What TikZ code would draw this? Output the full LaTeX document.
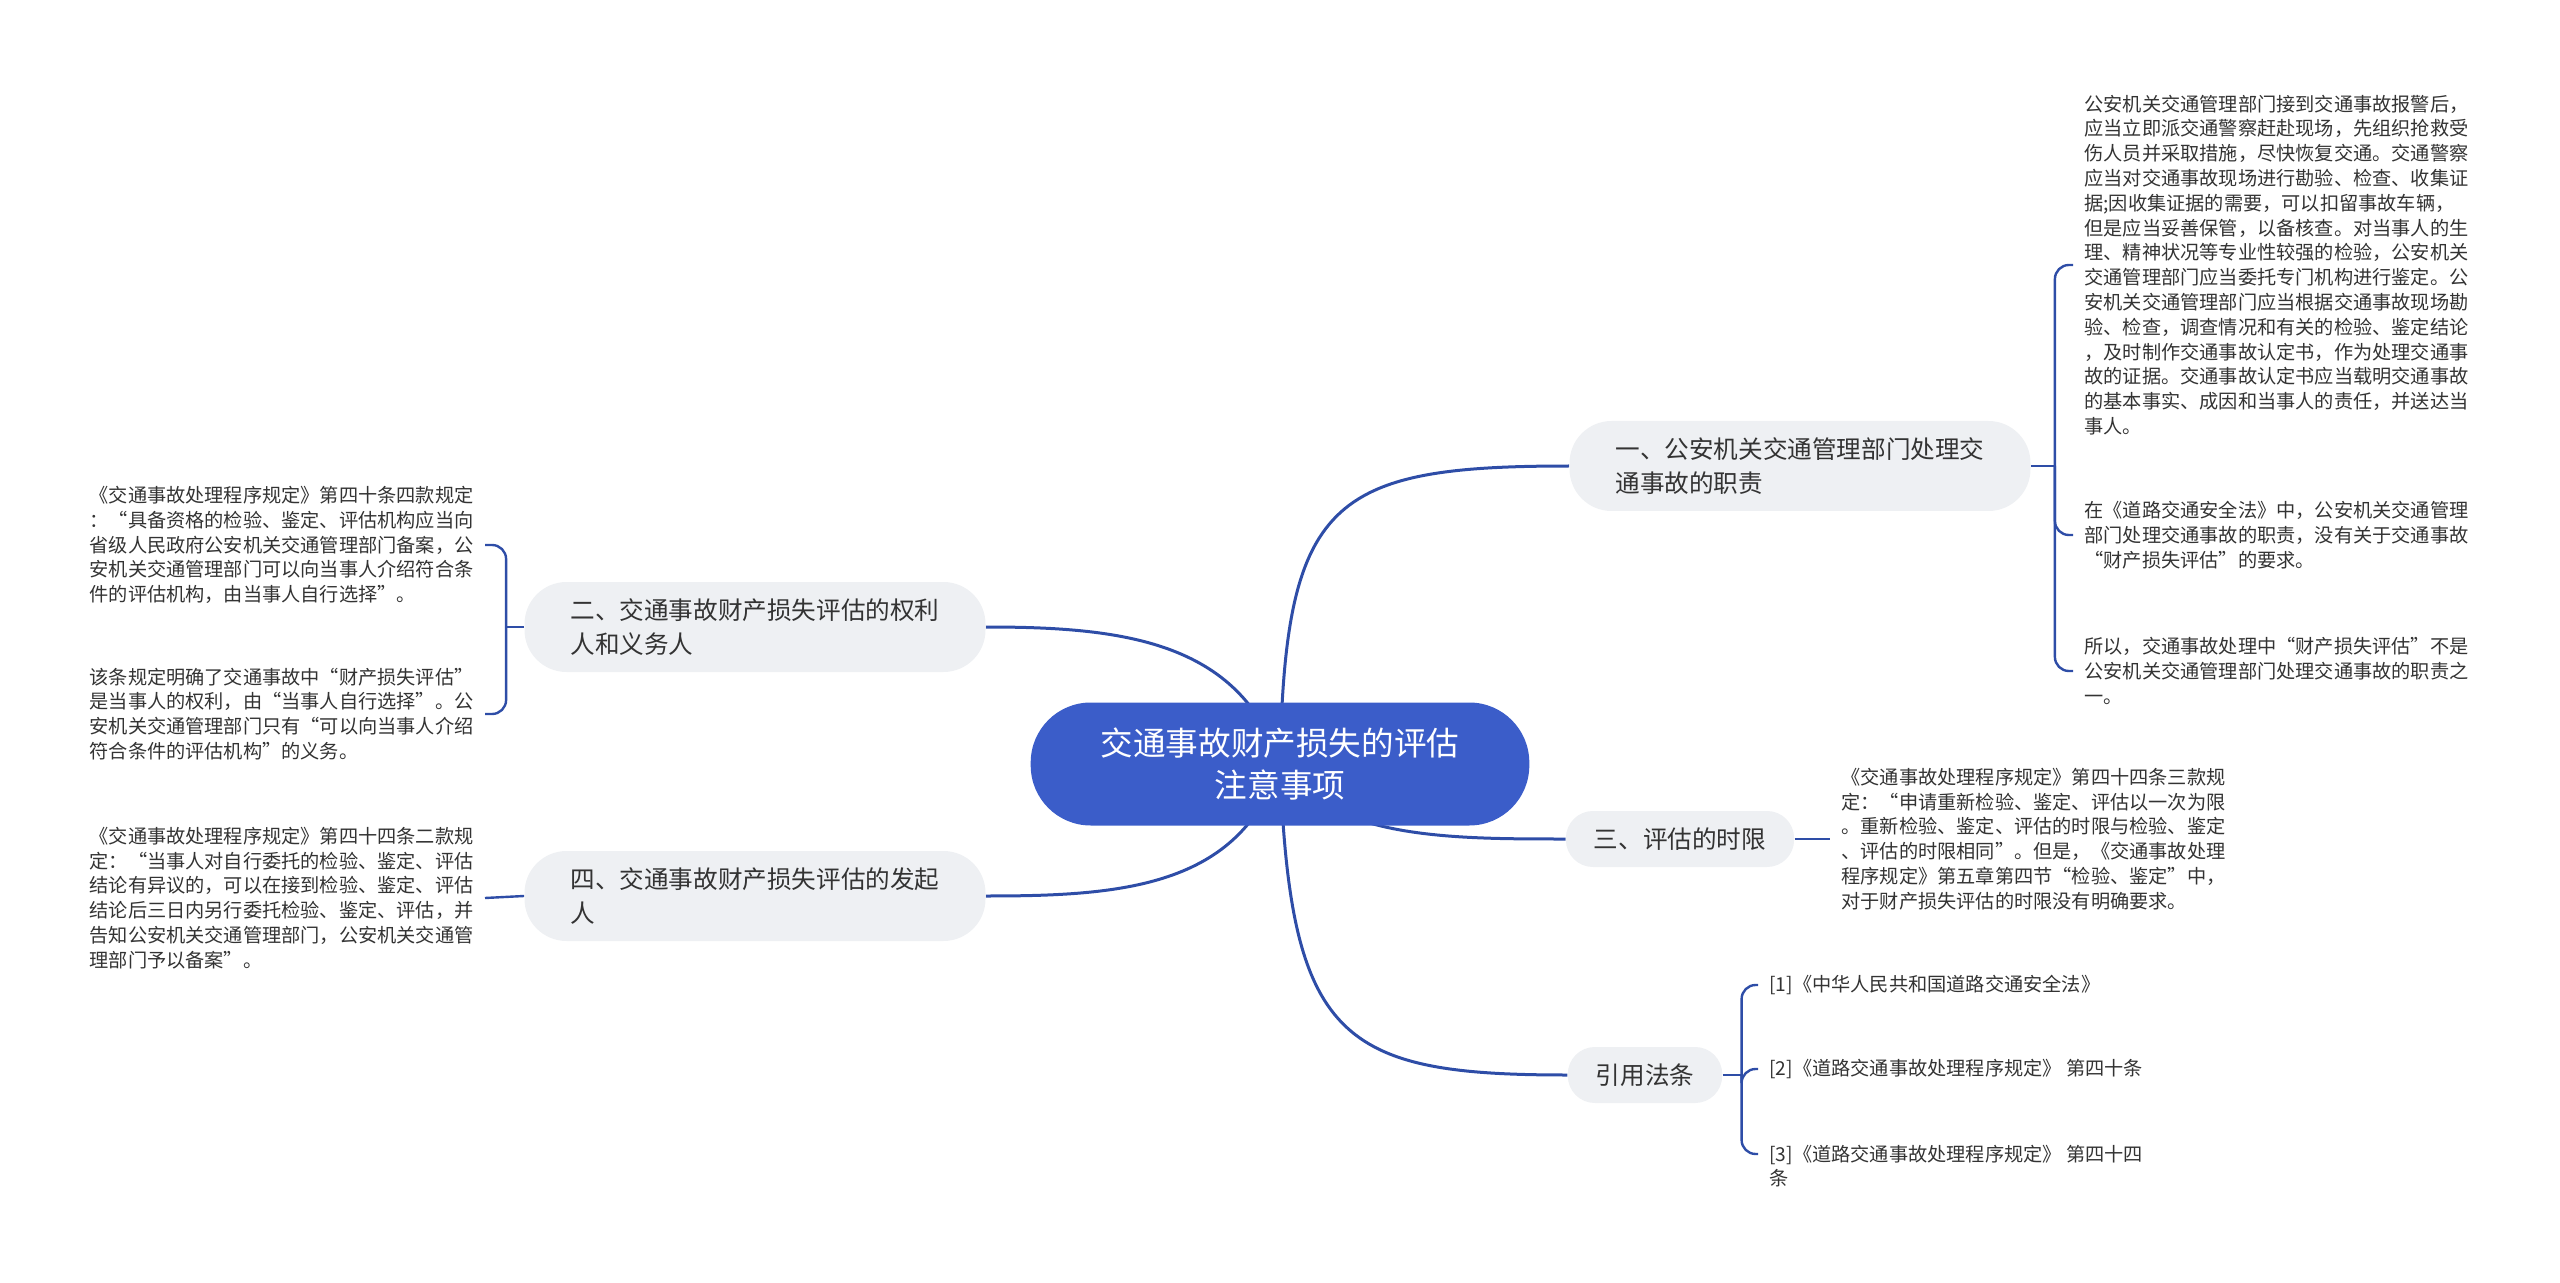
\documentclass[tikz,border=0pt]{standalone}
\usepackage{fontspec}
\setmainfont{Noto Sans CJK SC}
\usepackage{xcolor}
\usepackage{tikz}
\usetikzlibrary{positioning,backgrounds}
\definecolor{rootblue}{HTML}{3B5DC9}
\definecolor{linkblue}{HTML}{2E4DA7}
\definecolor{topicgray}{HTML}{EEF0F3}
\definecolor{inkgray}{HTML}{333333}

\begin{document}
\begin{tikzpicture}[x=0.5pt,y=-0.5pt]
    \tikzstyle{root}=[fill=rootblue, text=white, rounded corners=30pt, align=center, minimum height=61.5pt, inner xsep=35pt, font=\fontsize{16.3}{21}\selectfont]
    \tikzstyle{topic}=[fill=topicgray, text=inkgray, rounded corners=13.5pt, minimum height=28pt, inner xsep=14pt, align=left, font=\fontsize{12.3}{17}\selectfont]
    \tikzstyle{big topic}=[topic, rounded corners=21pt, minimum height=45pt, inner xsep=23pt]
    \tikzstyle{leaf}=[text=inkgray, align=left, inner xsep=5.5pt, inner ysep=0pt, font=\fontsize{9.6}{12.4}\selectfont]
    \tikzstyle{link}=[line width=1.5pt, draw=linkblue]
    \tikzstyle{brace}=[line width=1.2pt, draw=linkblue, rounded corners=7pt]

    \useasboundingbox (0,0) rectangle (2560,1283);

    % Draw the root and the main topics
    \node[root] (root) at (1280,764) {交通事故财产损失的评估\\注意事项};
    \node[big topic] (duty) at (1800,466) {一、公安机关交通管理部门处理交\\通事故的职责};
    \node[big topic] (rights) at (755,627) {二、交通事故财产损失评估的权利\\人和义务人};
    \node[topic] (limit) at (1680,839) {三、评估的时限};
    \node[big topic] (starter) at (755,896) {四、交通事故财产损失评估的发起\\人};
    \node[topic] (laws) at (1645,1075) {引用法条};

    % Draw the leaves of topic one
    \node[leaf, anchor=west] (duty-1) at (2073,265) {公安机关交通管理部门接到交通事故报警后，\\应当立即派交通警察赶赴现场，先组织抢救受\\伤人员并采取措施，尽快恢复交通。交通警察\\应当对交通事故现场进行勘验、检查、收集证\\据;因收集证据的需要，可以扣留事故车辆，\\但是应当妥善保管，以备核查。对当事人的生\\理、精神状况等专业性较强的检验，公安机关\\交通管理部门应当委托专门机构进行鉴定。公\\安机关交通管理部门应当根据交通事故现场勘\\验、检查，调查情况和有关的检验、鉴定结论\\，及时制作交通事故认定书，作为处理交通事\\故的证据。交通事故认定书应当载明交通事故\\的基本事实、成因和当事人的责任，并送达当\\事人。};
    \node[leaf, anchor=west] (duty-2) at (2073,535) {在《道路交通安全法》中，公安机关交通管理\\部门处理交通事故的职责，没有关于交通事故\\“财产损失评估”的要求。};
    \node[leaf, anchor=west] (duty-3) at (2073,671) {所以，交通事故处理中“财产损失评估”不是\\公安机关交通管理部门处理交通事故的职责之\\一。};

    % Draw the leaves of topic two and four
    \node[leaf, anchor=east] (rights-1) at (485,545) {《交通事故处理程序规定》第四十条四款规定\\：“具备资格的检验、鉴定、评估机构应当向\\省级人民政府公安机关交通管理部门备案，公\\安机关交通管理部门可以向当事人介绍符合条\\件的评估机构，由当事人自行选择”。};
    \node[leaf, anchor=east] (rights-2) at (485,714) {该条规定明确了交通事故中“财产损失评估”\\是当事人的权利，由“当事人自行选择”。公\\安机关交通管理部门只有“可以向当事人介绍\\符合条件的评估机构”的义务。};
    \node[leaf, anchor=east] (starter-1) at (485,898) {《交通事故处理程序规定》第四十四条二款规\\定：“当事人对自行委托的检验、鉴定、评估\\结论有异议的，可以在接到检验、鉴定、评估\\结论后三日内另行委托检验、鉴定、评估，并\\告知公安机关交通管理部门，公安机关交通管\\理部门予以备案”。};

    % Draw the leaves of topic three and the laws
    \node[leaf, anchor=west] (limit-1) at (1830,839) {《交通事故处理程序规定》第四十四条三款规\\定：“申请重新检验、鉴定、评估以一次为限\\。重新检验、鉴定、评估的时限与检验、鉴定\\、评估的时限相同”。但是，《交通事故处理\\程序规定》第五章第四节“检验、鉴定”中，\\对于财产损失评估的时限没有明确要求。};
    \node[leaf, anchor=west] (laws-1) at (1758,985) {[1]《中华人民共和国道路交通安全法》};
    \node[leaf, anchor=west] (laws-2) at (1758,1069) {[2]《道路交通事故处理程序规定》 第四十条};
    \node[leaf, anchor=west] (laws-3) at (1758,1166) {[3]《道路交通事故处理程序规定》 第四十四\\条};

    % Connect the root with every main topic
    \begin{scope}[on background layer]
        \draw[link] (root.center) .. controls (1285,500) and (1330,466) .. (duty.west);
        \draw[link] (root.center) .. controls (1240,640) and (1120,627) .. (rights.east);
        \draw[link] (root.center) .. controls (1330,839) and (1450,839) .. (limit.west);
        \draw[link] (root.center) .. controls (1240,888) and (1120,896) .. (starter.east);
        \draw[link] (root.center) .. controls (1290,1040) and (1340,1075) .. (laws.west);
    \end{scope}

    % Connect the topics with their leaves
    \draw[brace] (duty.east) -- ++(12pt,0) coordinate (duty-j);
    \foreach \dest in {duty-1,duty-2,duty-3}
        \draw[brace] (duty-j) |- (\dest.west);

    \draw[brace] (rights.west) -- ++(-9pt,0) coordinate (rights-j);
    \foreach \dest in {rights-1,rights-2}
        \draw[brace] (rights-j) |- (\dest.east);

    \draw[brace] (limit.east) -- (limit-1.west);
    \draw[brace] (starter.west) -- (starter-1.east);

    \draw[brace] (laws.east) -- ++(9.5pt,0) coordinate (laws-j);
    \foreach \dest in {laws-1,laws-2}
        \draw[brace] (laws-j) |- (\dest.west);
    \draw[brace] (laws-j) |- ([yshift=6pt]laws-3.west);

\end{tikzpicture}
\end{document}
